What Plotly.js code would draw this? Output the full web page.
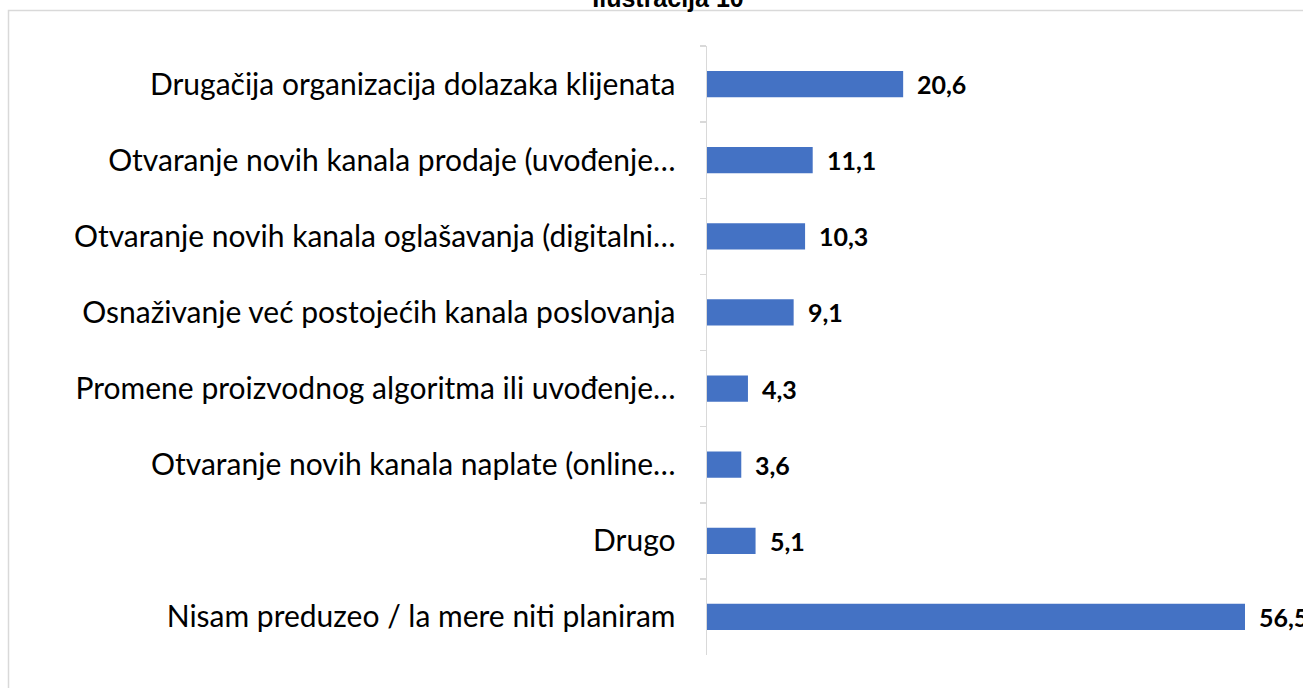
<!DOCTYPE html>
<html>
<head>
<meta charset="utf-8">
<script src="https://cdn.plot.ly/plotly-3.0.1.min.js"></script>
<style>html,body{margin:0;padding:0;background:#fff;overflow:hidden}</style>
</head>
<body>
<div id="chart" style="width:1303px;height:688px"></div>
<script>
var categories = [
  "Drugačija organizacija dolazaka klijenata",
  "Otvaranje novih kanala prodaje (uvođenje…",
  "Otvaranje novih kanala oglašavanja (digitalni…",
  "Osnaživanje već postojećih kanala poslovanja",
  "Promene proizvodnog algoritma ili uvođenje…",
  "Otvaranje novih kanala naplate (online…",
  "Drugo",
  "Nisam preduzeo / la mere niti planiram"
];
var values = [20.6, 11.1, 10.3, 9.1, 4.3, 3.6, 5.1, 56.5];
var titleText = "Ilustracija 10";

function fmt(v){ return v.toFixed(1).replace('.', ','); }

var trace = {
  type: 'bar',
  orientation: 'h',
  y: categories,
  x: values,
  marker: {color: '#4472C4'},
  hoverinfo: 'skip'
};

var annotations = categories.map(function(c, i){
  return {
    x: values[i], y: c, xref: 'x', yref: 'y',
    text: '<b>' + fmt(values[i]) + '</b>',
    showarrow: false, xanchor: 'left', yanchor: 'middle', xshift: 12,
    font: {family: 'Lato, sans-serif', size: 25, color: '#000'}
  };
});

var L = 707, W = 1303 - 707, T = 46, H = 655 - 46;
function px(x){ return (x - L) / W; }
function py(y){ return (T + H - y) / H; }

var layout = {
  width: 1303, height: 688,
  margin: {l: L, r: 0, t: T, b: 688 - 655, pad: 0},
  paper_bgcolor: '#fff', plot_bgcolor: '#fff',
  showlegend: false,
  bargap: 0.655,
  title: {
    text: '<b>' + titleText + '</b>',
    x: 668 / 1303, xanchor: 'center', xref: 'container',
    y: 1 - 7 / 688, yanchor: 'bottom', yref: 'container',
    font: {family: 'Liberation Sans, Arial, sans-serif', size: 25, color: '#000'}
  },
  xaxis: {
    range: [0, W / (538 / 56.5)],
    showgrid: false, zeroline: false, showline: false,
    showticklabels: false, ticks: ''
  },
  yaxis: {
    type: 'category',
    autorange: 'reversed',
    showline: true, linecolor: '#d9d9d9', linewidth: 1.5,
    ticks: 'outside', tickson: 'boundaries', ticklen: 6, tickcolor: '#d9d9d9', tickwidth: 1.5,
    ticklabelstandoff: 24,
    showgrid: false, zeroline: false,
    tickfont: {family: 'Lato, sans-serif', size: 30, color: '#000'}
  },
  annotations: annotations,
  shapes: [{
    type: 'rect', xref: 'paper', yref: 'paper',
    x0: px(8.5), x1: px(1310), y0: py(700), y1: py(10.5),
    line: {color: '#d9d9d9', width: 1.5}, fillcolor: 'rgba(0,0,0,0)', layer: 'below'
  }]
};

Plotly.newPlot('chart', [trace], layout, {displayModeBar: false, staticPlot: true});
</script>
</body>
</html>
